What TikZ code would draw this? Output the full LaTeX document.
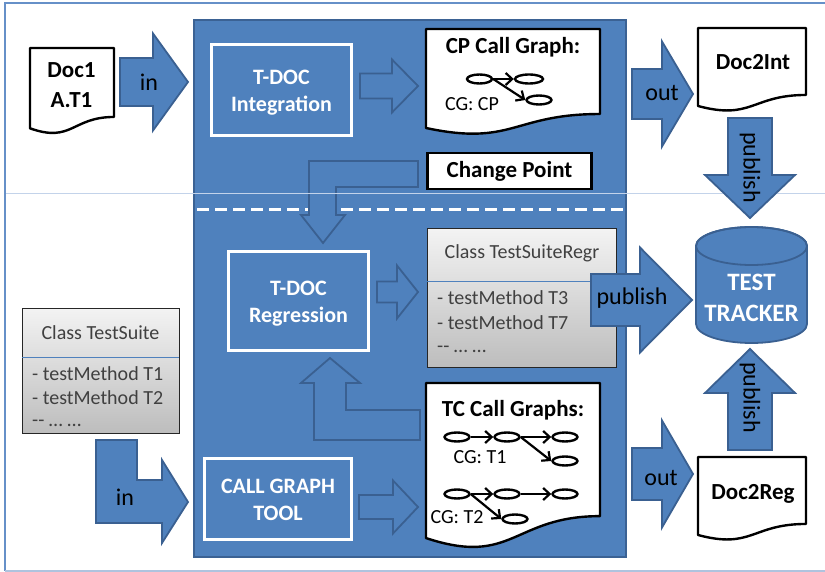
\documentclass[tikz,border=0pt]{standalone}
\usepackage{fontspec}
\setmainfont{Carlito}
\usetikzlibrary{arrows.meta,shapes.geometric}
\definecolor{bfill}{HTML}{4F81BD}
\definecolor{bdark}{HTML}{3A6091}
\definecolor{paneldark}{HTML}{3B6294}
\definecolor{framecol}{HTML}{6690C8}
\definecolor{framelight}{HTML}{AFC3DE}
\definecolor{faintcol}{HTML}{C3D3EA}
\definecolor{txtgray}{HTML}{404040}
\definecolor{gtop}{HTML}{F3F3F3}
\definecolor{gbot}{HTML}{BDBDBD}

\newcommand\rbarrow[6]{\draw[blockarrow] (#1,{#4-#5}) -- (#2,{#4-#5}) -- (#2,{#4-#6}) -- (#3,#4) -- (#2,{#4+#6}) -- (#2,{#4+#5}) -- (#1,{#4+#5}) -- cycle;}
\newcommand\vbarrow[6]{\draw[blockarrow] ({#1-#5},#2) -- ({#1-#5},#3) -- ({#1-#6},#3) -- (#1,#4) -- ({#1+#6},#3) -- ({#1+#5},#3) -- ({#1+#5},#2) -- cycle;}
\newcommand\docsh[4]{\draw[docline] (#1,#2) -- ({#1+#3},#2) -- ({#1+#3},{#2+0.802*#4}) .. controls ({#1+0.5*#3},{#2+0.802*#4}) and ({#1+0.5*#3},{#2+1.108*#4}) .. (#1,{#2+0.934*#4}) -- cycle;}

\tikzset{
  bluebox/.style={draw=white, line width=3pt, fill=bfill, inner sep=0pt},
  boxtext/.style={text=white, font=\fontsize{22}{27}\selectfont\bfseries, align=center, inner sep=0pt},
  blockarrow/.style={fill=bfill, draw=bdark, line width=1.8pt, line join=miter},
  docline/.style={draw=black, fill=white, line width=2.4pt, line join=round},
  doctext/.style={font=\fontsize{23}{30}\selectfont\bfseries, align=center, inner sep=0pt},
  albl/.style={font=\fontsize{24}{28}\selectfont, inner sep=0pt},
  cgtext/.style={font=\fontsize{20}{24}\selectfont, inner sep=0pt},
  cgnode/.style={draw, line width=2.4pt, ellipse, minimum width=25pt, minimum height=9pt, inner sep=0pt},
  cgarrow/.style={line width=2.2pt, -{Straight Barb[length=6.5pt,width=12pt]}},
  classbox/.style={draw=black!85, line width=1pt, top color=gtop, bottom color=gbot},
  classtext/.style={font=\fontsize{20}{25}\selectfont, text=txtgray, inner sep=0pt},
}

\begin{document}
\begin{tikzpicture}[x=1pt,y=-1pt]
\useasboundingbox (0,0) rectangle (825,572);
\fill[white] (0,0) rectangle (825,572);
\draw[line width=2pt, framecol] (826,3.5) -- (5,3.5) -- (5,571);
\draw[line width=2pt, framelight] (5,571) -- (826,571);

% main panel
\draw[fill=bfill, draw=paneldark, line width=2pt] (194,20) rectangle (626,557);
\draw[white, line width=3pt, dash pattern=on 12pt off 6pt] (197,210) -- (624,210);

% bent arrow Change Point -> Regression
\draw[blockarrow] (418,161) -- (309,161) -- (309,215) -- (301,215) -- (323,243) -- (345,215) -- (336,215) -- (336,187) -- (418,187) -- cycle;
% bent arrow TC Call Graphs -> Regression
\draw[blockarrow] (420,410) -- (346,410) -- (346,383) -- (360,383) -- (330,358) -- (301,383) -- (314,383) -- (314,440) -- (420,440) -- cycle;

\draw[faintcol, line width=0.6pt] (6,193) -- (825,193);

% blue boxes
\node[bluebox, minimum width=140pt, minimum height=91pt] (tdi) at (281.5,90) {};
\node[boxtext] (tdiL) at (281.5,93) {T-DOC\\Integration};
\node[bluebox, minimum width=140pt, minimum height=99pt] (tdr) at (298.5,301) {};
\node[boxtext] (tdrL) at (298.5,303.5) {T-DOC\\Regression};
\node[bluebox, minimum width=147pt, minimum height=81pt] (cgt) at (278,499) {};
\node[boxtext] (cgtL) at (278,499.5) {CALL GRAPH\\TOOL};

% straight block arrows
\rbarrow{120}{153}{188}{82}{24}{48.5}
\node[albl] (in1) at (149,82) {in};
\rbarrow{360}{392}{418}{86}{12.5}{26.5}
\rbarrow{632}{662}{693}{94}{25}{52.5}
\node[albl] (out1) at (662,93) {out};
\rbarrow{377}{397}{418}{292}{10.5}{26.5}
\rbarrow{359}{393}{418}{507}{12}{26.5}
\rbarrow{632}{662}{693}{474}{26}{53.5}
\node[albl] (out2) at (661,478) {out};

% bent "in" arrow bottom left
\draw[blockarrow] (96,440) -- (137,440) -- (137,480) -- (162,480) -- (162,460) -- (188,502) -- (162,543) -- (162,523) -- (96,523) -- cycle;
\node[albl] (in2) at (125,497) {in};

% vertical publish arrows
\vbarrow{750}{118}{175}{218}{22}{45}
\node[albl, rotate=-90] (pub1) at (750,167.5) {publish};
\vbarrow{750}{450}{393}{349}{22}{45}
\node[albl, rotate=-90] (pub3) at (750,397.5) {publish};

% documents
\docsh{30}{48}{84}{86}
\node[doctext] (doc1) at (71.5,85) {Doc1\\A.T1};
\docsh{426}{29}{174}{106}
\node[doctext] (cpt) at (513,47) {CP Call Graph:};
\docsh{698}{28}{108}{83.5}
\node[doctext] (d2i) at (753,62) {Doc2Int};
\docsh{426}{383}{174}{166}
\node[doctext] (tct) at (513,410) {TC Call Graphs:};
\docsh{698}{457}{108}{83.5}
\node[doctext] (d2r) at (753,494) {Doc2Reg};

% change point
\node[draw=black, fill=white, line width=2.4pt, minimum width=164pt, minimum height=36pt, inner sep=0pt, font=\fontsize{23}{27}\selectfont\bfseries] (chp) at (509.5,171) {Change Point};

% CP call graph
\node[cgnode] (cp1) at (479.5,79) {};
\node[cgnode, minimum width=28pt] (cp2) at (529,79) {};
\node[cgnode] (cp3) at (539,100) {};
\draw[cgarrow] (cp1) -- (cp2);
\draw[cgarrow] (cp1.east) -- (cp3.west);
\node[cgtext] (cgcp) at (472,104) {CG: CP};

% TC call graphs
\node[cgnode] (t1a) at (457,437) {};
\node[cgnode] (t1b) at (507,437) {};
\node[cgnode] (t1c) at (565,437) {};
\node[cgnode] (t1d) at (565,461) {};
\draw[cgarrow] (t1a) -- (t1b);
\draw[cgarrow] (t1b) -- (t1c);
\draw[cgarrow] (t1b.east) -- (t1d.west);
\node[cgtext] (cgt1) at (480,457) {CG: T1};
\node[cgnode] (t2a) at (457,494) {};
\node[cgnode] (t2b) at (507,494) {};
\node[cgnode] (t2c) at (565,494) {};
\node[cgnode] (t2d) at (515,519) {};
\draw[cgarrow] (t2a) -- (t2b);
\draw[cgarrow] (t2b) -- (t2c);
\draw[cgarrow] (t2a.east) -- (t2d.west);
\node[cgtext] (cgt2) at (457,517) {CG: T2};

% class TestSuiteRegr
\draw[classbox] (427,229) rectangle (616,367);
\draw[bfill, line width=1pt] (427,282) -- (616,282);
\node[classtext] (tsr) at (522,253) {Class TestSuiteRegr};
\node[classtext, anchor=west] (tsr1) at (437,298) {- testMethod T3};
\node[classtext, anchor=west] (tsr2) at (437,323) {- testMethod T7};
\node[classtext, anchor=west] (tsr3) at (437,349) {{-}{-} … …};

% class TestSuite
\draw[classbox] (22,308) rectangle (179,433);
\draw[bfill, line width=1pt] (22,357) -- (179,357);
\node[classtext] (ts) at (100.5,333) {Class TestSuite};
\node[classtext, anchor=west] (ts1) at (32,374) {- testMethod T1};
\node[classtext, anchor=west] (ts2) at (32,398) {- testMethod T2};
\node[classtext, anchor=west] (ts3) at (32,423) {{-}{-} … …};

% publish right arrow
\rbarrow{591}{640}{692}{300}{26}{52.5}
\node[albl] (pub2) at (632,298) {publish};

% test tracker
\draw[fill=bfill, draw=bdark, line width=1.8pt] (696,246) -- (696,324) arc[start angle=180, end angle=360, x radius=55.5pt, y radius=19pt] -- (807,246) arc[start angle=0, end angle=180, x radius=55.5pt, y radius=19pt] -- cycle;
\draw[draw=bdark, line width=1.8pt] (751.5,246) ellipse[x radius=55.5pt, y radius=19pt];
\node[text=white, font=\fontsize{25}{31}\selectfont\bfseries, align=center, inner sep=0pt] (tracker) at (751.5,297.5) {TEST\\TRACKER};
\end{tikzpicture}
\end{document}
